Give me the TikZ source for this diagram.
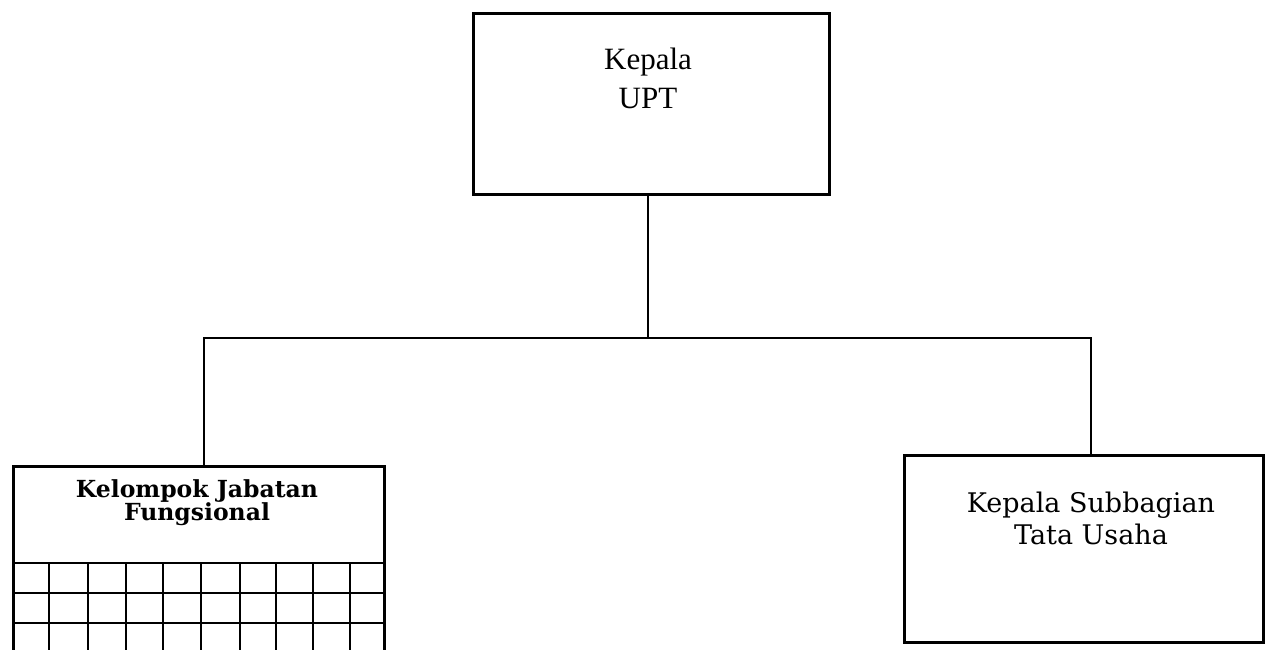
\documentclass[tikz,border=0pt]{standalone}
\usepackage{fontspec}
\setmainfont{Liberation Serif}
\newfontfamily\slabfont{DejaVu Serif}
\begin{document}
\begin{tikzpicture}[x=1pt,y=-1pt,
  box/.style={draw,line width=2.5pt,inner sep=0pt,anchor=north west},
  conn/.style={line width=1.6pt},
  grid/.style={line width=2.4pt},
  lbl/.style={align=center,inner sep=0pt}]
\useasboundingbox (0,0) rectangle (1266,649);
\clip (0,0) rectangle (1266,649);
% top box
\node[box,minimum width=356pt,minimum height=181pt] (upt) at (472,12) {};
\node[lbl,font=\fontsize{31}{39}\selectfont] (upttxt) at (648,78) {Kepala\\UPT};
% left box
\node[box,minimum width=371pt,minimum height=220pt] (kjf) at (12,465) {};
\node[lbl,font=\slabfont\bfseries\fontsize{23.5}{23}\selectfont] (kjftxt) at (197,503) {Kelompok Jabatan\\Fungsional};
% grid
\foreach \yy in {563,593,623} \draw[grid] (12,\yy) -- (383,\yy);
\foreach \xx in {49,88,126,163,201,240,276,313,350} \draw[grid] (\xx,563) -- (\xx,660);
% right box
\node[box,minimum width=359pt,minimum height=187pt] (ktu) at (903,454) {};
\node[lbl,font=\slabfont\fontsize{27}{32}\selectfont] (ktutxt) at (1091,518) {Kepala Subbagian\\Tata Usaha};
% connectors
\coordinate (j) at (648,338);
\coordinate (cL) at (204,465);
\coordinate (cR) at (1091,454);
\draw[conn] (upt.south -| j) -- (j);
\draw[conn] (cL) |- (j) -| (cR);
\end{tikzpicture}
\end{document}
